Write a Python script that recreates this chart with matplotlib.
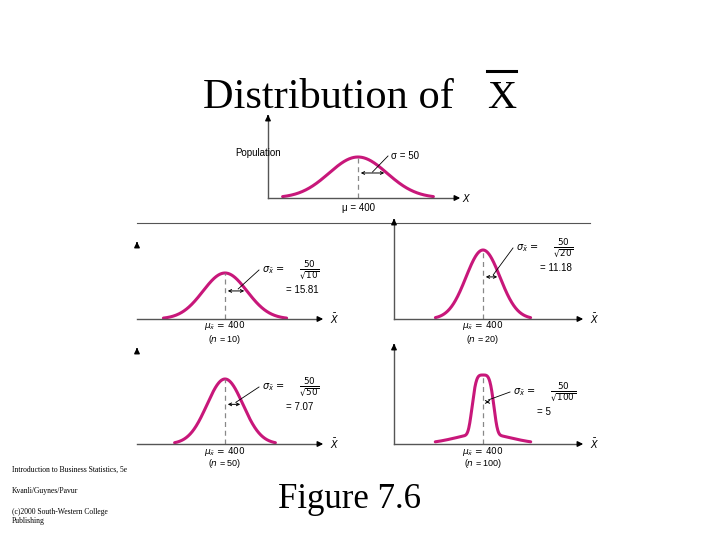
import numpy as np
import matplotlib
matplotlib.use("Agg")
import matplotlib.pyplot as plt

MU = 400
SIGMA_POP = 50
SAMPLE_SIZES = [10, 20, 50, 100]
SIGMA_LABELS = ["15.81", "11.18", "7.07", "5"]
PINK = "#c8177a"

# panel layout in pixels: (center x, baseline y, y-axis x, x-axis end, peak height, px per sigma)
PANELS = {
    "pop": (358, 198, 268, 455, 41, 29),
    10: (225, 319, 137, 318, 46, 22),
    20: (483, 319, 394, 578, 69, 17),
    50: (225, 444, 137, 318, 65, 18),
    100: (483, 444, 394, 578, 69, 9),
}

fig = plt.figure(figsize=(7.2, 5.4), dpi=100)
ax = fig.add_axes([0, 0, 1, 1])
ax.set_xlim(0, 720)
ax.set_ylim(540, 0)
ax.axis("off")

serif = "Liberation Serif"
sans = "Liberation Sans"


def draw_panel(key, sigma, ext, yaxis_full=True):
    cx, base, yx, xend, h, pps = PANELS[key]
    z = np.linspace(-ext, ext, 300)
    if key == 100:
        y = 0.85 * np.exp(-0.5 * (z / 1.1) ** 4) + 0.15 * np.exp(-0.5 * (z / 3.0) ** 2)
    else:
        y = np.exp(-0.5 * z ** 2)
    ax.plot(cx + z * pps, base - y * h, color=PINK, lw=2.2, solid_capstyle="round")
    ax.plot([cx, cx], [base, base - h], ls=(0, (4, 3)), color="#888888", lw=0.9)
    ax.plot([yx, xend], [base, base], color="#555555", lw=1)
    ax.annotate("", xy=(xend + 8, base), xytext=(xend - 2, base),
                arrowprops=dict(arrowstyle="-|>", color="black", lw=1, mutation_scale=8))
    top = base - h - 30 if key != "pop" else 116
    if yaxis_full:
        ax.plot([yx, yx], [base, top], color="#555555", lw=1)
    ax.annotate("", xy=(yx, top - 4), xytext=(yx, top + 3),
                arrowprops=dict(arrowstyle="-|>", color="black", lw=1, mutation_scale=8))
    # sigma arrow
    ya = base - h * 0.61
    ax.annotate("", xy=(cx + pps, ya), xytext=(cx, ya),
                arrowprops=dict(arrowstyle="<->", color="black", lw=0.7, mutation_scale=5))
    return cx, base, h, pps, ya


# title
ax.text(203, 108, "Distribution of", fontfamily=serif, fontsize=30.5, va="baseline")
ax.text(487, 108, "X", fontfamily=serif, fontsize=29, va="baseline")
ax.plot([487, 516], [71, 71], color="black", lw=2.2)

# population panel
cx, base, h, pps, ya = draw_panel("pop", SIGMA_POP, 2.6)
ax.text(235, 153, "Population", fontfamily=sans, fontsize=7, va="center")
ax.plot([cx + pps * 0.5, 388], [ya - 1, 156], color="black", lw=0.6)
ax.text(391, 156, f"σ = {SIGMA_POP}", fontfamily=sans, fontsize=7, va="center")
ax.text(cx, 208, f"μ = {MU}", fontfamily=sans, fontsize=7, ha="center", va="center")

ax.plot([137, 590], [223, 223], color="#555555", lw=0.8)

label_pos = {10: (262, 270), 20: (516, 248), 50: (262, 387), 100: (513, 392)}
for n, lab in zip(SAMPLE_SIZES, SIGMA_LABELS):
    full = n in (20, 100)
    cx, base, h, pps, ya = draw_panel(n, SIGMA_POP / np.sqrt(n), 2.8 if n != 100 else 5.3, full)
    lx, ly = label_pos[n]
    ax.plot([cx + pps * 0.6, lx - 3], [ya - 2, ly], color="black", lw=0.6)
    ax.text(lx, ly, r"$\sigma_{\bar{x}}$ =", fontsize=7, va="center")
    ax.text(lx + 37, ly, r"$\frac{50}{\sqrt{%d}}$" % n, fontsize=9, va="center")
    ax.text(lx + 24, ly + 20, f"= {lab}", fontfamily=sans, fontsize=7, va="center")
    ax.text(cx, base + 7, r"$\mu_{\bar{x}}$ = %d" % MU, fontsize=6.5, ha="center", va="center")
    ax.text(cx, base + 20, f"($n$ = {n})", fontfamily=sans, fontsize=6.5, ha="center", va="center")
    ax.text(PANELS[n][3] + 12, base, r"$\bar{X}$", fontsize=7, va="center")

ax.text(462, 198, r"$X$", fontsize=7, va="center")

ax.text(278, 508, "Figure 7.6", fontfamily=serif, fontsize=25, va="baseline")
ax.text(12, 470, "Introduction to Business Statistics, 5e", fontfamily=serif, fontsize=5.5, va="center")
ax.text(12, 491, "Kvanli/Guynes/Pavur", fontfamily=serif, fontsize=5.5, va="center")
ax.text(12, 512, "(c)2000 South-Western College", fontfamily=serif, fontsize=5.5, va="center")
ax.text(12, 521, "Publishing", fontfamily=serif, fontsize=5.5, va="center")

fig.savefig("out.png", dpi=100)
